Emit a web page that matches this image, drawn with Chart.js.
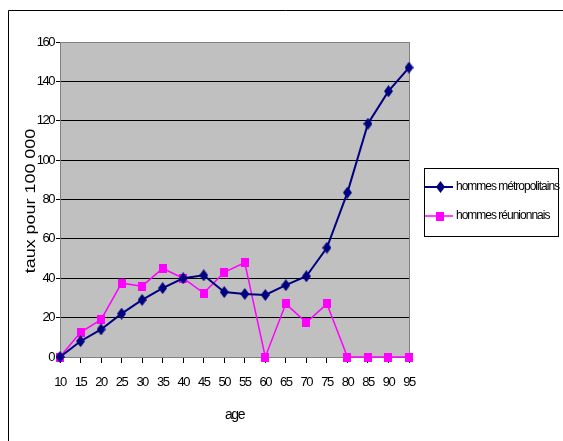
<!DOCTYPE html>
<html><head><meta charset="utf-8">
<script src="https://cdn.jsdelivr.net/npm/chart.js@4.4.0/dist/chart.umd.min.js"></script>
<style>html,body{margin:0;padding:0;background:#fff;}#wrap{width:563px;height:441px;position:relative;}</style>
</head><body><div id="wrap"><canvas id="c" width="563" height="441"></canvas></div>
<script>
const ages = ['10','15','20','25','30','35','40','45','50','55','60','65','70','75','80','85','90','95'];
const metroLabel = 'hommes métropolitains';
const reunionLabel = 'hommes réunionnais';
const metro = [0, 8, 14, 22, 29, 35, 40, 41.5, 33, 32, 31.5, 36.5, 41, 55.5, 83.5, 118.5, 135, 147];
const reunion = [0, 12.5, 19, 37.5, 36, 45, 40, 32.5, 43, 48, 0, 27, 17.5, 27, 0, 0, 0, 0];
const yTitle = 'taux pour 100 000';
const xTitle = 'age';

function diamond(){const c=document.createElement('canvas');c.width=9;c.height=12;const g=c.getContext('2d');g.fillStyle='#000080';g.beginPath();g.moveTo(4.5,0);g.lineTo(9,6);g.lineTo(4.5,12);g.lineTo(0,6);g.closePath();g.fill();return c;}
function square(){const c=document.createElement('canvas');c.width=8;c.height=9;const g=c.getContext('2d');g.fillStyle='#FF00FF';g.fillRect(0,0,8,9);return c;}
const dImg=diamond(), sImg=square();

const FONT='"Liberation Sans", Arial, sans-serif';

const deco = {
  id:'deco',
  beforeDraw(chart){
    const ctx=chart.ctx, a=chart.chartArea;
    ctx.letterSpacing='-1.5px';
    ctx.save();
    ctx.fillStyle='#fff';ctx.fillRect(0,0,chart.width,chart.height);
    ctx.fillStyle='#C0C0C0';ctx.fillRect(a.left,a.top,a.right-a.left,a.bottom-a.top);
    ctx.strokeStyle='#000';ctx.lineWidth=1;
    ctx.beginPath();ctx.moveTo(8.5,chart.height);ctx.lineTo(8.5,10.5);ctx.lineTo(chart.width,10.5);ctx.stroke();
    ctx.restore();
  },
  beforeDatasetsDraw(chart){
    const ctx=chart.ctx, a=chart.chartArea;
    ctx.save();ctx.strokeStyle='#808080';ctx.lineWidth=1;
    ctx.strokeRect(Math.round(a.left)+0.5,Math.round(a.top)+0.5,Math.round(a.right-a.left),Math.round(a.bottom-a.top));
    ctx.restore();
  },
  afterDraw(chart){
    const ctx=chart.ctx, a=chart.chartArea;
    ctx.save();
    // y title (stretched along its length like the reference)
    ctx.letterSpacing='0px';
    ctx.fillStyle='#000';ctx.font='14px '+FONT;ctx.textAlign='center';ctx.textBaseline='middle';
    ctx.translate(31,201);ctx.rotate(-Math.PI/2);ctx.scale(1.28,1);ctx.fillText(yTitle,0,0);
    ctx.restore();
    // legend
    ctx.save();
    ctx.letterSpacing='-1px';
    ctx.strokeStyle='#000';ctx.lineWidth=1;ctx.strokeRect(424.5,168.5,134,68);
    const items=[[metroLabel,'#000080',2,dImg,187],[reunionLabel,'#FF00FF',1.5,sImg,216]];
    ctx.font='12px '+FONT;ctx.textBaseline='middle';ctx.textAlign='left';ctx.fillStyle='#000';
    for(const [t,col,w,img,y] of items){
      ctx.strokeStyle=col;ctx.lineWidth=w;ctx.beginPath();ctx.moveTo(425,y);ctx.lineTo(453,y);ctx.stroke();
      ctx.drawImage(img,Math.round(440-img.width/2),Math.round(y-img.height/2));
      ctx.fillText(t,456,y);
    }
    ctx.restore();
  }
};

new Chart(document.getElementById('c'),{
  type:'line',
  data:{labels:ages,datasets:[
    {label:metroLabel,data:metro,borderColor:'#000080',borderWidth:2,pointStyle:dImg,pointRadius:6,pointHoverRadius:6,backgroundColor:'#000080',tension:0,clip:false},
    {label:reunionLabel,data:reunion,borderColor:'#FF00FF',borderWidth:1.5,pointStyle:sImg,pointRadius:6,pointHoverRadius:6,backgroundColor:'#FF00FF',tension:0,clip:false}
  ]},
  options:{
    responsive:false,animation:false,
    layout:{padding:{left:0,top:42,right:154,bottom:0}},
    plugins:{legend:{display:false},tooltip:{enabled:false}},
    scales:{
      x:{
        offset:false,
        grid:{drawOnChartArea:false,drawTicks:true,tickLength:6,color:'#000'},
        border:{color:'#808080'},
        ticks:{color:'#000',font:{family:FONT,size:13},padding:12,maxRotation:0,autoSkip:false},
        title:{display:true,text:xTitle,color:'#000',font:{family:FONT,size:14},padding:{top:0,bottom:17}},
        afterFit(s){s.height=84;}
      },
      y:{
        min:0,max:160,
        grid:{color:(c)=>(c.tick&&(c.tick.value===0||c.tick.value===160))?'#808080':'#000',tickLength:4,tickColor:'#000'},
        border:{color:'#808080'},
        ticks:{stepSize:20,color:'#000',font:{family:FONT,size:13},padding:2},
        afterFit(s){s.width=60;}
      }
    }
  },
  plugins:[deco]
});
</script></body></html>
